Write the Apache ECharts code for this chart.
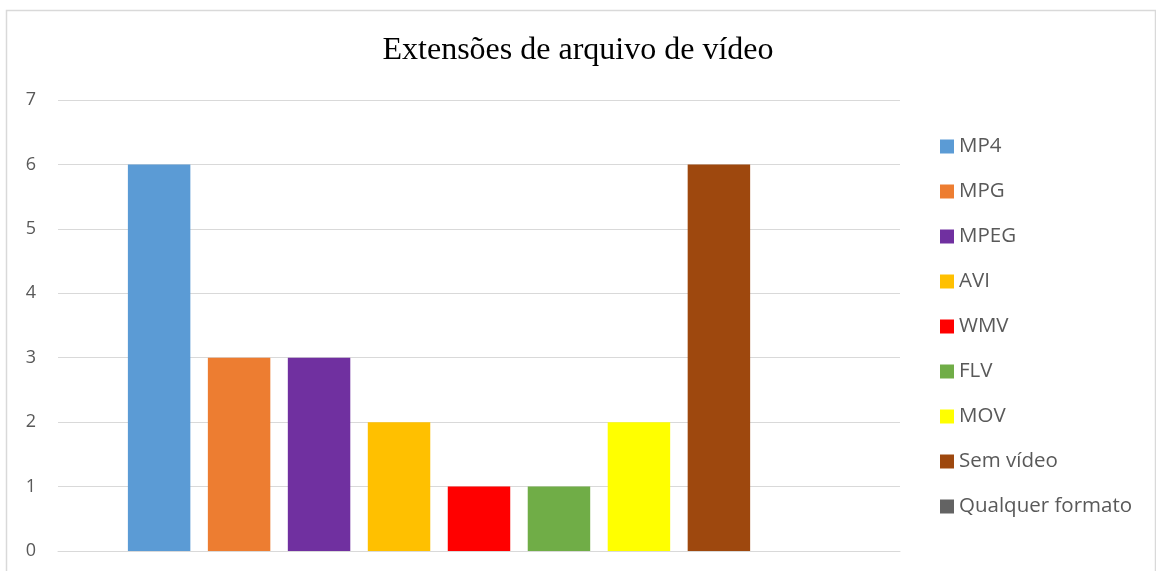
<!DOCTYPE html>
<html>
<head>
<meta charset="utf-8">
<script src="https://cdn.jsdelivr.net/npm/echarts@6/dist/echarts.min.js"></script>
<style>
html,body{margin:0;padding:0;background:#fff;}
#chart{width:1156px;height:571px;}
</style>
</head>
<body>
<div id="chart"></div>
<script>
const titleText = 'Extensões de arquivo de vídeo';
const categories = [''];
const seriesNames = ['MP4', 'MPG', 'MPEG', 'AVI', 'WMV', 'FLV', 'MOV', 'Sem vídeo', 'Qualquer formato'];
const seriesValues = [6, 3, 3, 2, 1, 1, 2, 6, 0];
const seriesColors = ['#5b9bd5', '#ed7d31', '#7030a0', '#ffc000', '#ff0000', '#70ad47', '#ffff00', '#9e480e', '#636363'];

const chart = echarts.init(document.getElementById('chart'), null, {renderer: 'canvas'});
const series = seriesNames.map((name, i) => ({
  name: name,
  type: 'bar',
  data: [seriesValues[i]],
  itemStyle: {color: seriesColors[i]},
  barGap: '28%',
  barCategoryGap: '16.6%'
}));
chart.setOption({
  animation: false,
  backgroundColor: '#fff',
  graphic: [{
    type: 'rect',
    shape: {x: 6.5, y: 10.5, width: 1149, height: 580},
    style: {fill: 'none', stroke: '#d9d9d9', lineWidth: 1.5},
    silent: true
  }],
  title: {
    text: titleText,
    left: 'center',
    top: 30,
    textStyle: {fontFamily: 'Liberation Serif', fontSize: 32, fontWeight: 'normal', color: '#000'}
  },
  grid: {left: 58, right: 256, top: 100, bottom: 20, containLabel: false},
  legend: {
    orient: 'vertical',
    left: 940,
    top: 136,
    padding: 0,
    itemWidth: 14,
    itemHeight: 14,
    itemGap: 24,
    icon: 'rect',
    textStyle: {fontFamily: 'Open Sans', fontSize: 20.5, color: '#595959', lineHeight: 20},
    data: seriesNames
  },
  xAxis: {
    type: 'category',
    data: categories,
    axisLine: {show: true, lineStyle: {color: '#d9d9d9', width: 1}},
    axisTick: {show: false},
    axisLabel: {show: false}
  },
  yAxis: {
    type: 'value',
    min: 0,
    max: 7,
    interval: 1,
    axisLine: {show: false},
    axisTick: {show: false},
    axisLabel: {margin: 22, fontFamily: 'Open Sans', fontSize: 18, color: '#595959'},
    splitLine: {lineStyle: {color: '#d9d9d9', width: 1}}
  },
  series: series
});
</script>
</body>
</html>
